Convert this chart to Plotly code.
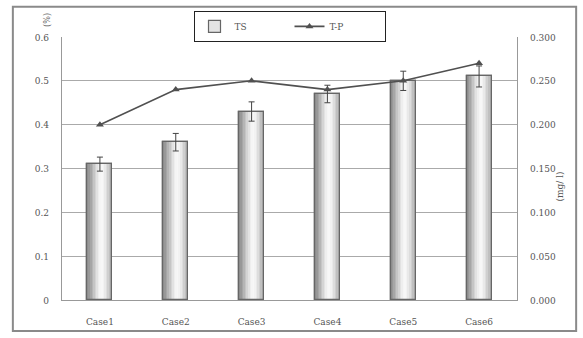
import plotly.graph_objects as go

categories = ["Case1", "Case2", "Case3", "Case4", "Case5", "Case6"]
ts_values = [0.31, 0.36, 0.43, 0.47, 0.50, 0.51]
ts_errors = [0.016, 0.02, 0.022, 0.02, 0.022, 0.024]
tp_values = [0.200, 0.240, 0.250, 0.240, 0.250, 0.270]
left_ticks = [0, 0.1, 0.2, 0.3, 0.4, 0.5, 0.6]
left_labels = ["0", "0.1", "0.2", "0.3", "0.4", "0.5", "0.6"]
right_ticks = [0, 0.05, 0.10, 0.15, 0.20, 0.25, 0.30]
right_labels = ["0.000", "0.050", "0.100", "0.150", "0.200", "0.250", "0.300"]

FONT = "DejaVu Serif Condensed"
TXT = "#555555"

fig = go.Figure()

bar_w = 0.33

# legend entry for TS (filled light gray)
fig.add_trace(go.Bar(
    x=categories, y=ts_values, width=bar_w, offset=-bar_w / 2,
    name="TS", marker=dict(color="#e4e4e4",
                           line=dict(color="#666666", width=1.2))))

# cylinder-like shading: overlapping narrow slices
shades = ["#8c8c8c", "#989898", "#a6a6a6", "#b5b5b5", "#c5c5c5", "#d4d4d4",
          "#e2e2e2", "#eeeeee", "#f5f5f5", "#f7f7f7", "#f2f2f2", "#e9e9e9",
          "#dddddd", "#cfcfcf", "#c0c0c0", "#b2b2b2"]
n = len(shades)
sw = bar_w / n
for i, c in enumerate(shades):
    fig.add_trace(go.Bar(
        x=categories, y=ts_values, width=sw * 1.02, offset=-bar_w / 2 + i * sw,
        marker=dict(color=c, line=dict(width=0)), showlegend=False,
        hoverinfo="skip"))

# outline on top
fig.add_trace(go.Bar(
    x=categories, y=ts_values, width=bar_w, offset=-bar_w / 2,
    showlegend=False, hoverinfo="skip",
    marker=dict(color="rgba(0,0,0,0)", line=dict(color="#666666", width=1.2))))

# error bars for TS
fig.add_trace(go.Scatter(
    x=categories, y=ts_values, mode="markers",
    marker=dict(size=1, color="rgba(0,0,0,0)"), showlegend=False,
    error_y=dict(type="data", array=ts_errors, color="#444444",
                 thickness=1, width=3)))

# T-P line on right axis
fig.add_trace(go.Scatter(
    x=categories, y=tp_values, mode="lines+markers", name="T-P",
    yaxis="y2", line=dict(color="#505050", width=1.6),
    marker=dict(symbol="triangle-up", size=7, color="#505050")))

fig.update_layout(
    width=583, height=338,
    margin=dict(l=62, r=66, t=36, b=38),
    paper_bgcolor="white", plot_bgcolor="white",
    barmode="overlay", bargap=0,
    font=dict(family=FONT, size=10, color=TXT),
    xaxis=dict(type="category", showgrid=False, showline=True,
               linecolor="#999999", linewidth=1, mirror=False,
               ticks="", tickfont=dict(family=FONT, size=10, color=TXT),
               ticklabelstandoff=12),
    yaxis=dict(range=[0, 0.6], tickvals=left_ticks, ticktext=left_labels,
               showgrid=True, gridcolor="#aaaaaa", gridwidth=1,
               showline=True, linecolor="#999999", linewidth=1,
               zeroline=False, ticks="", ticklabelstandoff=10,
               tickfont=dict(family=FONT, size=10, color=TXT)),
    yaxis2=dict(range=[0, 0.3], tickvals=right_ticks, ticktext=right_labels,
                overlaying="y", side="right", showgrid=False,
                showline=True, linecolor="#999999", linewidth=1,
                zeroline=False, ticks="", ticklabelstandoff=10,
                tickfont=dict(family=FONT, size=10, color=TXT)),
    legend=dict(orientation="h", x=0.5, xanchor="center", y=1.095,
                yanchor="top", bgcolor="white", bordercolor="#222222",
                borderwidth=1, font=dict(family=FONT, size=10, color=TXT),
                itemwidth=30, traceorder="normal", entrywidth=50,
                tracegroupgap=0),
    showlegend=True,
)

# outer chart frame
fig.add_shape(type="rect", xref="paper", yref="paper",
              x0=-0.108, x1=1.13, y0=-0.118, y1=1.115,
              line=dict(color="#8a8a8a", width=2), layer="below")

fig.add_annotation(text="(%)", xref="paper", yref="paper",
                   x=-0.05, y=1.1, showarrow=False, textangle=-90,
                   font=dict(family=FONT, size=9, color=TXT))
fig.add_annotation(text="(mg/ l)", xref="paper", yref="paper",
                   x=1.11, y=0.43, showarrow=False, textangle=-90,
                   font=dict(family=FONT, size=10, color=TXT))

fig.write_html("out.html")
